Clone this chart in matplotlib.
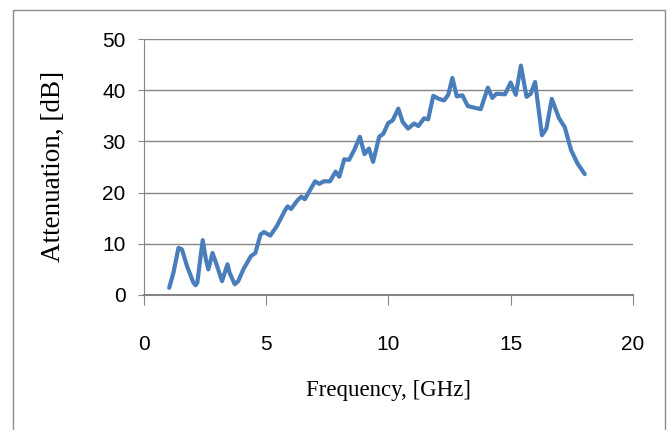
import matplotlib.pyplot as plt
from matplotlib.patches import Rectangle

# Attenuation vs frequency
freq = [1.05, 1.22, 1.43, 1.57, 1.78, 2.04, 2.13, 2.2, 2.3, 2.42, 2.55, 2.65, 2.82, 2.96,
        3.21, 3.43, 3.52, 3.73, 3.87, 4.08, 4.39, 4.57, 4.78, 4.92, 5.18, 5.44, 5.79, 5.89,
        6.03, 6.31, 6.45, 6.59, 7.01, 7.18, 7.36, 7.62, 7.85, 8.0, 8.2, 8.4, 8.61, 8.84,
        9.03, 9.21, 9.38, 9.63, 9.8, 10.0, 10.18, 10.41, 10.59, 10.81, 11.06, 11.23, 11.46,
        11.63, 11.84, 12.07, 12.28, 12.45, 12.62, 12.8, 13.03, 13.25, 13.5, 13.78, 14.07,
        14.25, 14.42, 14.77, 15.0, 15.21, 15.42, 15.65, 15.82, 16.0, 16.28, 16.46, 16.68,
        16.98, 17.21, 17.47, 17.73, 18.03]
atten = [1.4, 4.3, 9.2, 8.9, 5.6, 2.4, 1.9, 2.4, 6.3, 10.7, 6.9, 5.0, 8.2, 6.3,
         2.7, 6.0, 4.3, 2.1, 2.7, 5.0, 7.6, 8.2, 11.8, 12.3, 11.6, 13.4, 16.6, 17.3,
         16.8, 18.6, 19.2, 18.7, 22.2, 21.7, 22.2, 22.2, 24.1, 23.1, 26.5, 26.4, 28.3, 30.9,
         27.5, 28.6, 26.0, 30.9, 31.5, 33.6, 34.1, 36.4, 33.8, 32.5, 33.5, 33.0, 34.5,
         34.3, 38.9, 38.3, 38.0, 39.1, 42.4, 38.8, 39.0, 36.9, 36.6, 36.3, 40.5,
         38.5, 39.3, 39.2, 41.5, 39.1, 44.8, 38.7, 39.3, 41.6, 31.2, 32.5, 38.3,
         34.5, 32.8, 28.3, 25.7, 23.6]

x_ticks = [0, 5, 10, 15, 20]
y_ticks = [0, 10, 20, 30, 40, 50]

fig = plt.figure(figsize=(6.69, 4.30), dpi=100)
ax = fig.add_axes([0.2145, 0.3140, 0.7317, 0.5953])

ax.plot(freq, atten, color='#4A7EBB', linewidth=3.0, solid_joinstyle='round',
        solid_capstyle='round')

ax.set_xlim(0, 20)
ax.set_ylim(0, 50)
ax.set_xticks(x_ticks)
ax.set_yticks(y_ticks)
ax.grid(axis='y', color='#868686', linewidth=1.0)
ax.set_axisbelow(True)

for side in ['top', 'right']:
    ax.spines[side].set_visible(False)
ax.spines['left'].set_color('#868686')
ax.spines['bottom'].set_color('#868686')
ax.spines['bottom'].set_linewidth(1.5)
ax.tick_params(axis='x', direction='out', length=7, color='#868686', pad=22)
ax.tick_params(axis='y', direction='out', length=4, color='#868686', pad=9)

for lbl in ax.get_xticklabels() + ax.get_yticklabels():
    lbl.set_family('Liberation Sans')
    lbl.set_fontsize(15)

# axis titles placed where they sit in the original
fig.text(0.5807, 1 - 396 / 430, "Frequency, [GHz]", family='Liberation Serif',
         fontsize=16.5, ha='center', va='baseline')
fig.text(53 / 669, 1 - 166 / 430, "Attenuation, [dB]", family='Liberation Serif',
         fontsize=19.5, rotation=90, ha='center', va='center')

# outer frame
fig.patches.append(Rectangle((12.5 / 669, -0.02), (665 - 12.5) / 669, 1.02 - 10 / 430,
                             transform=fig.transFigure, fill=False,
                             edgecolor='#8c8c8c', linewidth=1.0))

plt.savefig("out.png", dpi=100)
